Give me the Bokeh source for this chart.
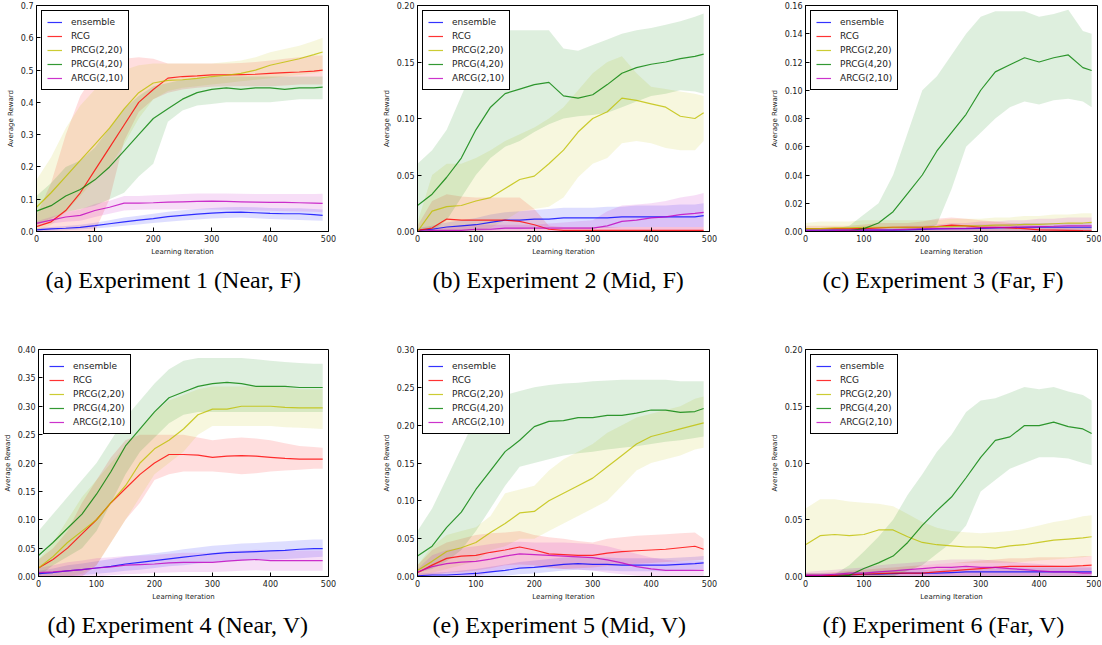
from bokeh.plotting import figure
from bokeh.layouts import column, row
from bokeh.models import FixedTicker, PrintfTickFormatter, Range1d
from bokeh.embed import file_html
from bokeh.resources import INLINE

# ---------------- data ----------------
X = [0, 25, 50, 75, 100, 125, 150, 175, 200, 225, 250, 275, 300, 325, 350, 375, 400, 425, 450, 475, 490]
SERIES = ["ensemble", "RCG", "PRCG(2,20)", "PRCG(4,20)", "ARCG(2,10)"]
COLORS = ["#0000ff", "#ff0000", "#bfbf00", "#008000", "#bf00bf"]
CAPTIONS = ["(a) Experiment 1 (Near, F)", "(b) Experiment 2 (Mid, F)", "(c) Experiment 3 (Far, F)",
            "(d) Experiment 4 (Near, V)", "(e) Experiment 5 (Mid, V)", "(f) Experiment 6 (Far, V)"]
X_TICKS = [0, 100, 200, 300, 400, 500]
Y_MAX = [0.7, 0.20, 0.16, 0.40, 0.30, 0.20]
Y_TICKS_1 = [0.0, 0.1, 0.2, 0.3, 0.4, 0.5, 0.6, 0.7]
Y_TICKS_2 = [0.0, 0.05, 0.10, 0.15, 0.20]
Y_TICKS_3 = [0.0, 0.02, 0.04, 0.06, 0.08, 0.10, 0.12, 0.14, 0.16]
Y_TICKS_4 = [0.0, 0.05, 0.10, 0.15, 0.20, 0.25, 0.30, 0.35, 0.40]
Y_TICKS_5 = [0.0, 0.05, 0.10, 0.15, 0.20, 0.25, 0.30]
Y_TICKS_6 = [0.0, 0.05, 0.10, 0.15, 0.20]
Y_FMT = ["%.1f", "%.2f", "%.2f", "%.2f", "%.2f", "%.2f"]

# Experiment 1
e1_ens = [0.005,0.008,0.010,0.013,0.018,0.024,0.030,0.035,0.040,0.046,0.050,0.054,0.057,0.059,0.060,0.058,0.056,0.055,0.055,0.052,0.050]
e1_ens_lo = [0.0,0.002,0.004,0.006,0.009,0.013,0.018,0.022,0.026,0.030,0.034,0.037,0.040,0.042,0.043,0.041,0.039,0.037,0.036,0.034,0.033]
e1_ens_hi = [0.010,0.014,0.017,0.021,0.027,0.035,0.043,0.049,0.055,0.061,0.066,0.070,0.073,0.075,0.076,0.075,0.073,0.072,0.072,0.070,0.068]
e1_rcg = [0.015,0.030,0.065,0.120,0.190,0.260,0.330,0.400,0.440,0.475,0.480,0.482,0.485,0.485,0.486,0.487,0.490,0.492,0.494,0.497,0.500]
e1_rcg_lo = [0.0,0.0,0.0,0.0,0.0,0.10,0.28,0.37,0.41,0.43,0.44,0.445,0.448,0.45,0.45,0.45,0.45,0.452,0.455,0.455,0.455]
e1_rcg_hi = [0.05,0.15,0.30,0.42,0.49,0.525,0.535,0.54,0.535,0.52,0.52,0.52,0.52,0.52,0.522,0.525,0.53,0.535,0.54,0.545,0.545]
e1_p220 = [0.075,0.120,0.170,0.220,0.270,0.320,0.380,0.430,0.460,0.468,0.470,0.474,0.480,0.484,0.490,0.500,0.515,0.525,0.535,0.548,0.556]
e1_p220_lo = [0.0,0.02,0.06,0.11,0.16,0.20,0.27,0.35,0.41,0.435,0.445,0.45,0.455,0.46,0.465,0.47,0.475,0.48,0.485,0.49,0.495]
e1_p220_hi = [0.16,0.23,0.32,0.39,0.44,0.47,0.50,0.515,0.52,0.52,0.52,0.52,0.52,0.525,0.53,0.54,0.555,0.565,0.575,0.59,0.60]
e1_p420 = [0.063,0.080,0.110,0.130,0.160,0.200,0.250,0.300,0.350,0.380,0.410,0.430,0.440,0.445,0.440,0.445,0.445,0.440,0.445,0.445,0.447]
e1_p420_lo = [0.02,0.04,0.06,0.07,0.08,0.10,0.12,0.17,0.21,0.34,0.375,0.39,0.395,0.40,0.40,0.40,0.40,0.405,0.41,0.41,0.41]
e1_p420_hi = [0.11,0.15,0.20,0.22,0.26,0.32,0.38,0.42,0.45,0.46,0.47,0.475,0.48,0.48,0.48,0.48,0.48,0.48,0.48,0.48,0.48]
e1_arcg = [0.025,0.035,0.045,0.050,0.065,0.075,0.088,0.088,0.089,0.091,0.092,0.093,0.094,0.093,0.092,0.091,0.090,0.090,0.089,0.088,0.087]
e1_arcg_lo = [0.018,0.025,0.030,0.033,0.045,0.055,0.065,0.067,0.068,0.068,0.068,0.068,0.068,0.067,0.066,0.065,0.064,0.063,0.062,0.061,0.060]
e1_arcg_hi = [0.032,0.045,0.060,0.068,0.085,0.095,0.110,0.110,0.112,0.114,0.116,0.118,0.118,0.118,0.117,0.116,0.116,0.116,0.116,0.116,0.117]

# Experiment 2
e2_ens = [0.001,0.002,0.004,0.005,0.006,0.008,0.010,0.010,0.011,0.011,0.012,0.012,0.012,0.012,0.013,0.013,0.013,0.013,0.013,0.013,0.014]
e2_ens_lo = [0.0,0.0,0.0,0.0,0.0,0.001,0.002,0.002,0.003,0.003,0.003,0.003,0.003,0.003,0.004,0.004,0.004,0.004,0.004,0.004,0.004]
e2_ens_hi = [0.003,0.005,0.008,0.010,0.012,0.015,0.017,0.018,0.019,0.020,0.021,0.021,0.021,0.022,0.022,0.023,0.023,0.023,0.024,0.024,0.025]
e2_rcg = [0.001,0.003,0.011,0.010,0.010,0.010,0.010,0.009,0.006,0.002,0.001,0.001,0.001,0.001,0.001,0.001,0.001,0.001,0.001,0.001,0.001]
e2_rcg_lo = [0.0,0.0,0.0,0.0,0.0,0.0,0.0,0.0,0.0,0.0,0.0,0.0,0.0,0.0,0.0,0.0,0.0,0.0,0.0,0.0,0.0]
e2_rcg_hi = [0.005,0.027,0.033,0.031,0.030,0.030,0.030,0.030,0.020,0.005,0.004,0.004,0.004,0.004,0.004,0.004,0.004,0.004,0.004,0.004,0.004]
e2_p220 = [0.000,0.018,0.022,0.023,0.027,0.030,0.038,0.046,0.049,0.060,0.072,0.088,0.100,0.106,0.118,0.116,0.113,0.110,0.102,0.100,0.105]
e2_p220_lo = [0.0,0.0,0.0,0.0,0.0,0.003,0.010,0.018,0.020,0.022,0.030,0.048,0.060,0.065,0.078,0.080,0.078,0.074,0.072,0.072,0.080]
e2_p220_hi = [0.008,0.050,0.060,0.060,0.065,0.072,0.080,0.086,0.092,0.100,0.110,0.125,0.140,0.150,0.155,0.140,0.128,0.126,0.124,0.122,0.120]
e2_p420 = [0.023,0.033,0.048,0.065,0.090,0.110,0.122,0.126,0.130,0.132,0.120,0.118,0.121,0.130,0.140,0.145,0.148,0.150,0.153,0.155,0.157]
e2_p420_lo = [0.0,0.0,0.010,0.030,0.050,0.065,0.075,0.080,0.088,0.095,0.100,0.102,0.103,0.105,0.110,0.115,0.120,0.122,0.125,0.124,0.122]
e2_p420_hi = [0.060,0.072,0.090,0.120,0.150,0.175,0.178,0.178,0.178,0.178,0.162,0.160,0.165,0.170,0.175,0.178,0.180,0.183,0.186,0.190,0.193]
e2_arcg = [0.000,0.001,0.001,0.001,0.002,0.002,0.003,0.003,0.003,0.003,0.003,0.003,0.003,0.005,0.009,0.010,0.012,0.013,0.015,0.016,0.017]
e2_arcg_lo = [0.0,0.0,0.0,0.0,0.0,0.0,0.0,0.0,0.0,0.0,0.0,0.0,0.0,0.0,0.0,0.0,0.0,0.0,0.0,0.0,0.0]
e2_arcg_hi = [0.002,0.003,0.004,0.005,0.006,0.006,0.006,0.006,0.006,0.007,0.008,0.009,0.010,0.018,0.023,0.024,0.025,0.027,0.030,0.032,0.034]

# Experiment 3
e3_ens = [0.001,0.001,0.001,0.001,0.001,0.001,0.001,0.0012,0.0015,0.0018,0.002,0.002,0.0022,0.0025,0.0027,0.003,0.003,0.003,0.003,0.003,0.003]
e3_ens_lo = [0.0,0.0,0.0,0.0,0.0,0.0,0.0,0.0,0.0,0.0,0.0,0.0,0.0,0.0,0.0,0.0,0.0,0.0,0.0,0.0,0.0]
e3_ens_hi = [0.002,0.002,0.002,0.002,0.002,0.002,0.002,0.0025,0.003,0.0035,0.004,0.0045,0.005,0.005,0.0055,0.006,0.006,0.006,0.006,0.006,0.006]
e3_rcg = [0.002,0.002,0.002,0.002,0.002,0.0025,0.003,0.003,0.003,0.0035,0.0045,0.004,0.003,0.003,0.0025,0.002,0.0012,0.001,0.0008,0.0006,0.0005]
e3_rcg_lo = [0.0,0.0,0.0,0.0,0.0,0.0,0.0,0.0,0.0,0.0,0.0,0.0,0.0,0.0,0.0,0.0,0.0,0.0,0.0,0.0,0.0]
e3_rcg_hi = [0.004,0.004,0.004,0.004,0.005,0.006,0.006,0.006,0.007,0.009,0.010,0.009,0.008,0.007,0.006,0.005,0.004,0.004,0.003,0.003,0.003]
e3_p220 = [0.002,0.002,0.0025,0.0025,0.003,0.003,0.003,0.003,0.003,0.0035,0.0035,0.004,0.004,0.0045,0.0045,0.005,0.005,0.0055,0.006,0.006,0.0065]
e3_p220_lo = [0.0,0.0,0.0,0.0,0.0,0.0,0.0,0.0,0.0,0.0,0.0,0.0,0.0,0.0,0.0,0.0,0.0,0.0,0.0,0.0,0.0]
e3_p220_hi = [0.006,0.007,0.007,0.007,0.008,0.008,0.008,0.008,0.008,0.008,0.009,0.009,0.009,0.010,0.010,0.011,0.011,0.012,0.012,0.013,0.013]
e3_p420 = [0.0,0.0,0.0,0.0005,0.002,0.006,0.014,0.027,0.040,0.057,0.070,0.083,0.100,0.113,0.118,0.123,0.120,0.123,0.125,0.116,0.114]
e3_p420_lo = [0.0,0.0,0.0,0.0,0.0,0.0,0.0,0.0,0.0,0.005,0.030,0.060,0.070,0.080,0.088,0.092,0.090,0.093,0.094,0.092,0.088]
e3_p420_hi = [0.0,0.0,0.002,0.004,0.012,0.020,0.040,0.070,0.100,0.110,0.125,0.140,0.152,0.156,0.156,0.156,0.152,0.154,0.157,0.142,0.140]
e3_arcg = [0.0005,0.0005,0.0006,0.0008,0.001,0.001,0.0012,0.0015,0.0018,0.002,0.002,0.0022,0.0025,0.0028,0.003,0.0032,0.0035,0.0037,0.004,0.004,0.004]
e3_arcg_lo = [0.0,0.0,0.0,0.0,0.0,0.0,0.0,0.0,0.0,0.0,0.0,0.0,0.0,0.0,0.0,0.0,0.0,0.0,0.0,0.0,0.0]
e3_arcg_hi = [0.002,0.002,0.002,0.002,0.003,0.003,0.003,0.004,0.004,0.005,0.006,0.006,0.007,0.007,0.008,0.008,0.009,0.009,0.010,0.010,0.010]

# Experiment 4
e4_ens = [0.005,0.007,0.010,0.012,0.015,0.018,0.022,0.025,0.028,0.031,0.034,0.037,0.040,0.042,0.043,0.044,0.045,0.046,0.048,0.049,0.049]
e4_ens_lo = [0.0,0.0,0.0,0.002,0.005,0.007,0.010,0.012,0.015,0.018,0.020,0.023,0.025,0.027,0.028,0.029,0.030,0.031,0.032,0.034,0.035]
e4_ens_hi = [0.010,0.014,0.020,0.023,0.027,0.031,0.035,0.038,0.041,0.044,0.048,0.051,0.054,0.056,0.058,0.059,0.061,0.062,0.064,0.065,0.065]
e4_rcg = [0.015,0.030,0.050,0.075,0.100,0.130,0.155,0.180,0.200,0.215,0.215,0.214,0.210,0.212,0.213,0.212,0.210,0.208,0.207,0.207,0.207]
e4_rcg_lo = [0.0,0.0,0.0,0.0,0.02,0.06,0.10,0.13,0.17,0.18,0.185,0.185,0.185,0.183,0.180,0.182,0.185,0.187,0.188,0.190,0.190]
e4_rcg_hi = [0.030,0.050,0.080,0.130,0.170,0.210,0.240,0.250,0.250,0.250,0.250,0.245,0.240,0.243,0.245,0.243,0.240,0.235,0.230,0.228,0.227]
e4_p220 = [0.015,0.035,0.060,0.080,0.100,0.130,0.160,0.200,0.225,0.240,0.260,0.285,0.295,0.295,0.300,0.300,0.300,0.298,0.297,0.297,0.297]
e4_p220_lo = [0.0,0.0,0.0,0.005,0.02,0.06,0.10,0.14,0.18,0.20,0.22,0.25,0.265,0.265,0.265,0.265,0.265,0.263,0.262,0.261,0.260]
e4_p220_hi = [0.030,0.060,0.100,0.140,0.170,0.200,0.230,0.260,0.290,0.310,0.320,0.330,0.335,0.335,0.335,0.335,0.335,0.333,0.330,0.330,0.330]
e4_p420 = [0.037,0.060,0.085,0.110,0.145,0.185,0.230,0.260,0.290,0.315,0.325,0.335,0.340,0.342,0.340,0.335,0.335,0.335,0.333,0.333,0.333]
e4_p420_lo = [0.0,0.02,0.035,0.05,0.08,0.13,0.18,0.22,0.245,0.27,0.285,0.29,0.29,0.29,0.29,0.29,0.29,0.29,0.29,0.29,0.29]
e4_p420_hi = [0.080,0.110,0.140,0.170,0.200,0.240,0.280,0.310,0.340,0.365,0.380,0.385,0.385,0.385,0.385,0.383,0.380,0.378,0.376,0.375,0.375]
e4_arcg = [0.007,0.008,0.010,0.012,0.015,0.017,0.020,0.021,0.022,0.024,0.025,0.025,0.025,0.027,0.029,0.030,0.028,0.028,0.028,0.028,0.028]
e4_arcg_lo = [0.0,0.0,0.0,0.0,0.0,0.002,0.004,0.005,0.006,0.007,0.008,0.008,0.008,0.009,0.010,0.011,0.010,0.010,0.010,0.010,0.010]
e4_arcg_hi = [0.015,0.020,0.025,0.028,0.032,0.034,0.036,0.037,0.038,0.040,0.042,0.042,0.042,0.044,0.046,0.047,0.046,0.046,0.046,0.046,0.046]

# Experiment 5
e5_ens = [0.001,0.002,0.002,0.003,0.004,0.006,0.008,0.011,0.012,0.014,0.016,0.017,0.016,0.016,0.015,0.015,0.015,0.015,0.016,0.017,0.018]
e5_ens_lo = [0.0,0.0,0.0,0.0,0.0,0.0,0.001,0.003,0.004,0.006,0.008,0.009,0.008,0.008,0.007,0.007,0.007,0.007,0.008,0.009,0.010]
e5_ens_hi = [0.004,0.005,0.006,0.008,0.010,0.013,0.016,0.019,0.021,0.023,0.025,0.026,0.025,0.025,0.024,0.024,0.024,0.024,0.025,0.026,0.027]
e5_rcg = [0.005,0.015,0.024,0.027,0.028,0.032,0.035,0.039,0.035,0.030,0.029,0.028,0.028,0.031,0.033,0.034,0.035,0.036,0.038,0.040,0.036]
e5_rcg_lo = [0.0,0.002,0.005,0.006,0.008,0.011,0.015,0.016,0.015,0.012,0.010,0.011,0.012,0.014,0.015,0.017,0.018,0.019,0.020,0.021,0.022]
e5_rcg_hi = [0.015,0.035,0.045,0.050,0.055,0.057,0.058,0.060,0.055,0.052,0.050,0.047,0.045,0.050,0.052,0.054,0.055,0.056,0.057,0.058,0.050]
e5_p220 = [0.008,0.020,0.033,0.038,0.045,0.058,0.070,0.084,0.086,0.100,0.110,0.120,0.130,0.145,0.160,0.175,0.185,0.190,0.195,0.200,0.203]
e5_p220_lo = [0.0,0.005,0.010,0.015,0.020,0.035,0.040,0.050,0.050,0.060,0.070,0.080,0.090,0.100,0.120,0.140,0.150,0.155,0.160,0.168,0.170]
e5_p220_hi = [0.015,0.040,0.055,0.060,0.065,0.080,0.110,0.115,0.120,0.140,0.155,0.165,0.175,0.190,0.200,0.210,0.215,0.220,0.225,0.235,0.238]
e5_p420 = [0.027,0.040,0.065,0.085,0.115,0.140,0.165,0.180,0.198,0.205,0.206,0.210,0.210,0.213,0.213,0.216,0.220,0.220,0.217,0.218,0.222]
e5_p420_lo = [0.005,0.010,0.020,0.035,0.060,0.090,0.120,0.145,0.150,0.155,0.160,0.163,0.165,0.168,0.170,0.172,0.175,0.178,0.180,0.183,0.185]
e5_p420_hi = [0.060,0.090,0.130,0.170,0.210,0.230,0.240,0.245,0.250,0.253,0.255,0.256,0.258,0.259,0.260,0.260,0.260,0.260,0.258,0.258,0.258]
e5_arcg = [0.006,0.013,0.017,0.019,0.020,0.023,0.027,0.030,0.029,0.028,0.027,0.026,0.025,0.022,0.018,0.013,0.010,0.008,0.008,0.008,0.008]
e5_arcg_lo = [0.0,0.0,0.0,0.0,0.0,0.005,0.010,0.012,0.012,0.011,0.010,0.009,0.008,0.005,0.003,0.001,0.0,0.0,0.0,0.0,0.0]
e5_arcg_hi = [0.010,0.028,0.035,0.038,0.040,0.043,0.045,0.046,0.045,0.045,0.045,0.044,0.043,0.040,0.035,0.030,0.025,0.022,0.020,0.020,0.020]

# Experiment 6
e6_ens = [0.001,0.001,0.001,0.0015,0.002,0.002,0.0025,0.003,0.003,0.003,0.0035,0.004,0.004,0.004,0.004,0.004,0.004,0.004,0.004,0.004,0.004]
e6_ens_lo = [0.0,0.0,0.0,0.0,0.0,0.0,0.0,0.0,0.0,0.0,0.0,0.0,0.0,0.0,0.0,0.0,0.0,0.0,0.0,0.0,0.0]
e6_ens_hi = [0.003,0.003,0.003,0.004,0.004,0.005,0.005,0.006,0.006,0.006,0.007,0.007,0.007,0.008,0.008,0.008,0.008,0.008,0.008,0.008,0.008]
e6_rcg = [0.001,0.001,0.001,0.0015,0.002,0.0025,0.003,0.003,0.003,0.004,0.005,0.006,0.007,0.008,0.009,0.009,0.009,0.009,0.009,0.0095,0.010]
e6_rcg_lo = [0.0,0.0,0.0,0.0,0.0,0.0,0.0,0.0,0.0,0.0,0.0,0.0,0.0,0.0,0.0,0.0,0.0,0.0,0.0,0.0,0.0]
e6_rcg_hi = [0.003,0.003,0.004,0.005,0.006,0.007,0.008,0.009,0.010,0.011,0.012,0.013,0.014,0.015,0.016,0.016,0.017,0.017,0.017,0.018,0.018]
e6_p220 = [0.028,0.036,0.037,0.036,0.037,0.041,0.041,0.035,0.030,0.028,0.027,0.026,0.026,0.025,0.027,0.028,0.030,0.032,0.033,0.034,0.035]
e6_p220_lo = [0.0,0.0,0.0,0.0,0.0,0.0,0.0,0.005,0.010,0.011,0.012,0.012,0.012,0.012,0.012,0.013,0.014,0.015,0.016,0.017,0.018]
e6_p220_hi = [0.060,0.068,0.068,0.066,0.065,0.064,0.062,0.055,0.048,0.043,0.040,0.039,0.038,0.039,0.040,0.042,0.045,0.048,0.050,0.053,0.054]
e6_p420 = [0.0,0.0,0.0,0.001,0.007,0.012,0.018,0.030,0.045,0.058,0.070,0.087,0.105,0.120,0.123,0.133,0.133,0.136,0.132,0.130,0.126]
e6_p420_lo = [0.0,0.0,0.0,0.0,0.0,0.0,0.0,0.005,0.010,0.020,0.030,0.045,0.075,0.085,0.095,0.100,0.105,0.105,0.104,0.100,0.098]
e6_p420_hi = [0.0,0.0,0.002,0.010,0.022,0.035,0.050,0.072,0.090,0.110,0.125,0.145,0.155,0.157,0.162,0.167,0.165,0.167,0.163,0.160,0.155]
e6_arcg = [0.001,0.001,0.002,0.003,0.003,0.004,0.005,0.006,0.007,0.008,0.008,0.009,0.008,0.008,0.007,0.006,0.005,0.004,0.004,0.003,0.003]
e6_arcg_lo = [0.0,0.0,0.0,0.0,0.0,0.0,0.0,0.0,0.0,0.0,0.0,0.0,0.0,0.0,0.0,0.0,0.0,0.0,0.0,0.0,0.0]
e6_arcg_hi = [0.004,0.005,0.006,0.007,0.008,0.010,0.011,0.012,0.013,0.014,0.015,0.015,0.015,0.014,0.013,0.012,0.011,0.010,0.009,0.009,0.009]

EXPERIMENTS = [
    [(e1_ens, e1_ens_lo, e1_ens_hi), (e1_rcg, e1_rcg_lo, e1_rcg_hi), (e1_p220, e1_p220_lo, e1_p220_hi), (e1_p420, e1_p420_lo, e1_p420_hi), (e1_arcg, e1_arcg_lo, e1_arcg_hi)],
    [(e2_ens, e2_ens_lo, e2_ens_hi), (e2_rcg, e2_rcg_lo, e2_rcg_hi), (e2_p220, e2_p220_lo, e2_p220_hi), (e2_p420, e2_p420_lo, e2_p420_hi), (e2_arcg, e2_arcg_lo, e2_arcg_hi)],
    [(e3_ens, e3_ens_lo, e3_ens_hi), (e3_rcg, e3_rcg_lo, e3_rcg_hi), (e3_p220, e3_p220_lo, e3_p220_hi), (e3_p420, e3_p420_lo, e3_p420_hi), (e3_arcg, e3_arcg_lo, e3_arcg_hi)],
    [(e4_ens, e4_ens_lo, e4_ens_hi), (e4_rcg, e4_rcg_lo, e4_rcg_hi), (e4_p220, e4_p220_lo, e4_p220_hi), (e4_p420, e4_p420_lo, e4_p420_hi), (e4_arcg, e4_arcg_lo, e4_arcg_hi)],
    [(e5_ens, e5_ens_lo, e5_ens_hi), (e5_rcg, e5_rcg_lo, e5_rcg_hi), (e5_p220, e5_p220_lo, e5_p220_hi), (e5_p420, e5_p420_lo, e5_p420_hi), (e5_arcg, e5_arcg_lo, e5_arcg_hi)],
    [(e6_ens, e6_ens_lo, e6_ens_hi), (e6_rcg, e6_rcg_lo, e6_rcg_hi), (e6_p220, e6_p220_lo, e6_p220_hi), (e6_p420, e6_p420_lo, e6_p420_hi), (e6_arcg, e6_arcg_lo, e6_arcg_hi)],
]
Y_TICKS = [Y_TICKS_1, Y_TICKS_2, Y_TICKS_3, Y_TICKS_4, Y_TICKS_5, Y_TICKS_6]

# ---------------- layout ----------------
COL_W = [376, 381, 344]
COL_BL = [36, 41, 48]
COL_BR = [48, 48, 4]
CAP_OFF = [9, 15, 17]
ROW_H = [311, 333]
ROW_BT = [5, 38]
ROW_BB = [80, 68]

SANS = "DejaVu Sans"


def make_plot(i):
    r, c = divmod(i, 3)
    p = figure(width=COL_W[c], height=ROW_H[r],
               x_range=Range1d(0, 500), y_range=Range1d(0, Y_MAX[i]),
               output_backend="svg", toolbar_location=None,
               min_border_left=COL_BL[c], min_border_right=COL_BR[c],
               min_border_top=ROW_BT[r], min_border_bottom=ROW_BB[r],
               title=CAPTIONS[i], title_location="below")
    p.grid.visible = False
    p.background_fill_color = "white"
    p.border_fill_color = "white"
    p.outline_line_color = "black"
    p.outline_line_alpha = 1.0
    p.outline_line_width = 1

    series = EXPERIMENTS[i]
    for (m, lo, hi), col in zip(series, COLORS):
        p.varea(x=X, y1=lo, y2=hi, fill_color=col, fill_alpha=0.13)
    for (m, lo, hi), col, name in zip(series, COLORS, SERIES):
        p.line(X, m, line_color=col, line_width=1.2, line_alpha=0.8, legend_label=name)

    for ax in (p.xaxis[0], p.yaxis[0]):
        ax.major_tick_in = 4
        ax.major_tick_out = 0
        ax.minor_tick_line_color = None
        ax.axis_line_color = "black"
        ax.major_label_text_font = SANS
        ax.major_label_text_font_size = "8px"
        ax.major_label_text_color = "#222222"
        ax.major_label_standoff = 3
        ax.axis_label_text_font = SANS
        ax.axis_label_text_font_size = "7px"
        ax.axis_label_text_font_style = "normal"
        ax.axis_label_text_color = "#222222"
        ax.axis_label_standoff = 3
    p.xaxis[0].ticker = FixedTicker(ticks=X_TICKS)
    p.xaxis[0].axis_label = "Learning Iteration"
    p.yaxis[0].ticker = FixedTicker(ticks=Y_TICKS[i])
    p.yaxis[0].formatter = PrintfTickFormatter(format=Y_FMT[i])
    p.yaxis[0].axis_label = "Average Reward"

    lg = p.legend[0]
    lg.location = "top_left"
    lg.border_line_color = "black"
    lg.border_line_width = 1
    lg.border_line_alpha = 1.0
    lg.background_fill_color = "white"
    lg.background_fill_alpha = 1.0
    lg.label_text_font = SANS
    lg.label_text_font_size = "9px"
    lg.label_text_color = "#222222"
    lg.glyph_width = 15
    lg.glyph_height = 12
    lg.label_height = 12
    lg.label_standoff = 9
    lg.spacing = 2
    lg.padding = 5
    lg.margin = 5

    p.title.text_font = "Liberation Serif"
    p.title.text_font_size = "24px"
    p.title.text_font_style = "normal"
    p.title.text_color = "black"
    p.title.align = "left"
    p.title.offset = CAP_OFF[c]
    p.title.standoff = 12
    return p


plots = [make_plot(i) for i in range(6)]
layout = column(row(*plots[:3]), row(*plots[3:]))

open("out.html", "w").write(file_html(layout, INLINE))
